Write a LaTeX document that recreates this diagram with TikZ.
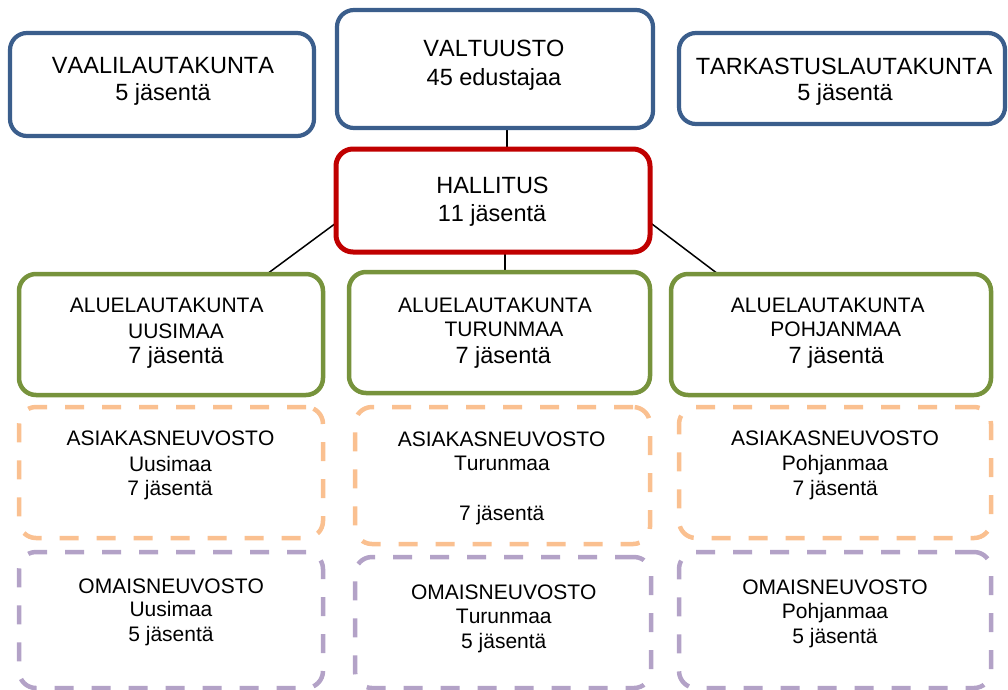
\documentclass[tikz,border=0pt]{standalone}
\usepackage{fontspec}
\setmainfont{Liberation Sans}[Kerning=Off]
\usetikzlibrary{backgrounds}
\definecolor{bluebord}{HTML}{3B5E8C}
\definecolor{redbord}{HTML}{C00000}
\definecolor{greenbord}{HTML}{77933C}
\definecolor{orangebord}{HTML}{FAC090}
\definecolor{purplebord}{HTML}{B3A2C7}
\begin{document}
\begin{tikzpicture}[x=1pt,y=-1pt,
  box/.style={draw, rectangle, rounded corners=17pt, fill=white, inner sep=0pt, outer sep=0pt},
  bluebox/.style={box, draw=bluebord, line width=4.2pt},
  redbox/.style={box, draw=redbord, line width=5pt},
  greenbox/.style={box, draw=greenbord, line width=4.5pt},
  orangebox/.style={box, draw=orangebord, line width=4.5pt, dash pattern=on 19pt off 18pt},
  purplebox/.style={box, draw=purplebord, line width=4.5pt, dash pattern=on 19pt off 18pt},
  big/.style={anchor=base, inner sep=0pt, font=\fontsize{23.5}{28}\selectfont},
  mid/.style={anchor=base, inner sep=0pt, font=\fontsize{21}{25}\selectfont},
  link/.style={draw=black, line width=1.5pt}
]
\useasboundingbox (0,0) rectangle (1008,689);

% top row
\node[bluebox, minimum width=304pt, minimum height=103pt] (vaali) at (162,84.5) {};
\node[bluebox, minimum width=316pt, minimum height=118pt] (valtuusto) at (495,69) {};
\node[bluebox, minimum width=326pt, minimum height=91pt] (tarkastus) at (842,78.5) {};
\node[redbox, minimum width=314pt, minimum height=103pt] (hallitus) at (493,200.5) {};

% green row
\node[greenbox, minimum width=304pt, minimum height=121pt] (gl) at (171,334.5) {};
\node[greenbox, minimum width=301pt, minimum height=121pt] (gm) at (499.5,332.5) {};
\node[greenbox, minimum width=320pt, minimum height=121pt] (gr) at (831,334.5) {};

% orange row
\node[orangebox, minimum width=304pt, minimum height=131pt] (ol) at (171,472.5) {};
\node[orangebox, minimum width=295pt, minimum height=137pt] (om) at (502.5,475.5) {};
\node[orangebox, minimum width=312pt, minimum height=131pt] (or) at (835,472.5) {};

% purple row
\node[purplebox, minimum width=304pt, minimum height=136pt] (pl) at (171,620) {};
\node[purplebox, minimum width=296pt, minimum height=131pt] (pm) at (503,622.5) {};
\node[purplebox, minimum width=312pt, minimum height=136pt] (pr) at (835,620) {};

% connectors
\begin{scope}[on background layer]
\coordinate (v1) at ([xshift=12pt]valtuusto.south);
\draw[link] (v1) -- (v1 |- hallitus.north);
\coordinate (h1) at ([xshift=12pt]hallitus.south);
\draw[link] (h1) -- (h1 |- gm.north);
\draw[link] ([yshift=-22.5pt]hallitus.west) -- ([xshift=96pt]gl.north);
\draw[link] ([yshift=-22pt]hallitus.east) -- ([xshift=-113pt]gr.north);
\end{scope}

% texts top
\node[big] (vaali-a) at (163,73) {VAALILAUTAKUNTA};
\node[big] (vaali-b) at (163,100) {5 jäsentä};
\node[big] (valt-a) at (494,56.7) {VALTUUSTO};
\node[big] (valt-b) at (494,85) {45 edustajaa};
\node[big] (tark-a) at (844,74) {TARKASTUSLAUTAKUNTA};
\node[big] (tark-b) at (845,100) {5 jäsentä};
\node[big] (hall-a) at (492.5,193) {HALLITUS};
\node[big] (hall-b) at (492,221.7) {11 jäsentä};

% texts green
\node[mid] (gl-a) at (166.7,312.5) {ALUELAUTAKUNTA};
\node[mid] (gl-b) at (176,338) {UUSIMAA};
\node[big] (gl-c) at (176,363.3) {7 jäsentä};
\node[mid] (gm-a) at (495,312) {ALUELAUTAKUNTA};
\node[mid] (gm-b) at (504,336.5) {TURUNMAA};
\node[big] (gm-c) at (503.3,363.3) {7 jäsentä};
\node[mid] (gr-a) at (827.8,312.3) {ALUELAUTAKUNTA};
\node[mid] (gr-b) at (835.8,336.7) {POHJANMAA};
\node[big] (gr-c) at (836.2,363.3) {7 jäsentä};

% texts orange
\node[mid] (ol-a) at (170.5,445.7) {ASIAKASNEUVOSTO};
\node[mid] (ol-b) at (170.5,471.7) {Uusimaa};
\node[mid] (ol-c) at (170,495) {7 jäsentä};
\node[mid] (om-a) at (501.7,446.7) {ASIAKASNEUVOSTO};
\node[mid] (om-b) at (502,470.7) {Turunmaa};
\node[mid] (om-c) at (501.7,520) {7 jäsentä};
\node[mid] (or-a) at (835,445.7) {ASIAKASNEUVOSTO};
\node[mid] (or-b) at (835,470.7) {Pohjanmaa};
\node[mid] (or-c) at (835.3,495) {7 jäsentä};

% texts purple
\node[mid] (pl-a) at (171.2,593.3) {OMAISNEUVOSTO};
\node[mid] (pl-b) at (171,616.7) {Uusimaa};
\node[mid] (pl-c) at (171,641.7) {5 jäsentä};
\node[mid] (pm-a) at (503.8,599.3) {OMAISNEUVOSTO};
\node[mid] (pm-b) at (503.8,623.3) {Turunmaa};
\node[mid] (pm-c) at (503.8,648.3) {5 jäsentä};
\node[mid] (pr-a) at (835,594.3) {OMAISNEUVOSTO};
\node[mid] (pr-b) at (835,618.3) {Pohjanmaa};
\node[mid] (pr-c) at (835,643.3) {5 jäsentä};
\end{tikzpicture}
\end{document}
